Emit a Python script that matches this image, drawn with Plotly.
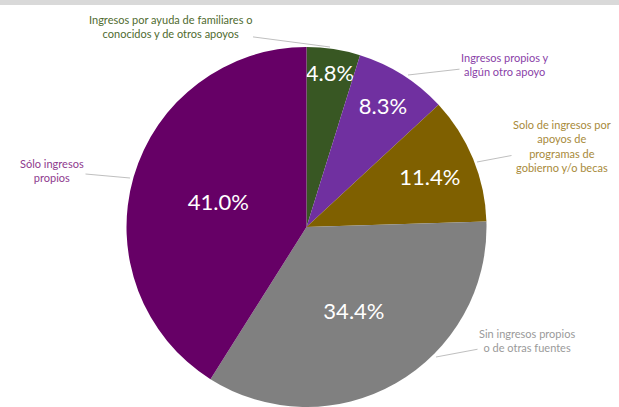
import plotly.graph_objects as go

categories = [
    "Ingresos por ayuda de familiares o<br>conocidos y de otros apoyos",
    "Ingresos propios y<br>algún otro apoyo",
    "Solo de ingresos por<br>apoyos de<br>programas de<br>gobierno y/o becas",
    "Sin ingresos propios<br>o de otras fuentes",
    "Sólo ingresos<br>propios",
]
values = [4.8, 8.3, 11.4, 34.4, 41.0]
slice_colors = ["#385723", "#7030a0", "#7f6000", "#808080", "#660066"]
label_colors = ["#4f6b2f", "#8a3fa8", "#a88a3a", "#9a9a9a", "#8e3a8e"]

W, H = 619, 407
fig = go.Figure()
fig.add_trace(go.Pie(
    labels=categories,
    values=values,
    sort=False,
    direction="clockwise",
    rotation=0,
    marker=dict(colors=slice_colors, line=dict(width=0)),
    texttemplate="%{value:.1f}%",
    textposition="inside",
    insidetextorientation="horizontal",
    textfont=dict(family="Lato, Open Sans, sans-serif", size=22, color="white"),
    hoverinfo="label+value",
    showlegend=False,
    domain=dict(x=[126.5 / W, 486.5 / W], y=[0, 360 / H]),
))

# leader-label anchor points (pixels) and text offsets
heads = [(330, 47), (408, 75), (477, 162), (436, 357), (130, 178)]
offsets = [(-160, -21), (97, -11), (85, -16), (91, -17), (-78, -7)]
for lab, col, (hx, hy), (ax, ay) in zip(categories, label_colors, heads, offsets):
    fig.add_annotation(
        x=hx / W, y=1 - hy / H, xref="paper", yref="paper",
        ax=ax, ay=ay, text=lab, showarrow=True, arrowhead=0,
        arrowwidth=1, arrowcolor="#bfbfbf", standoff=0, startstandoff=0,
        font=dict(family="Lato, Open Sans, sans-serif", size=11, color=col),
        align="center",
    )

fig.add_shape(type="rect", xref="paper", yref="paper", x0=0, x1=1,
              y0=1 - 5 / H, y1=1, fillcolor="#d9d9d9", line=dict(width=0))

fig.update_layout(
    width=W, height=H,
    margin=dict(l=0, r=0, t=0, b=0),
    paper_bgcolor="white", plot_bgcolor="white",
    uniformtext=dict(minsize=22, mode="show"),
)
fig.write_html(
    "out.html",
    config={"displayModeBar": False},
    post_script="document.body.style.margin='0';document.body.style.overflow='hidden';",
)
